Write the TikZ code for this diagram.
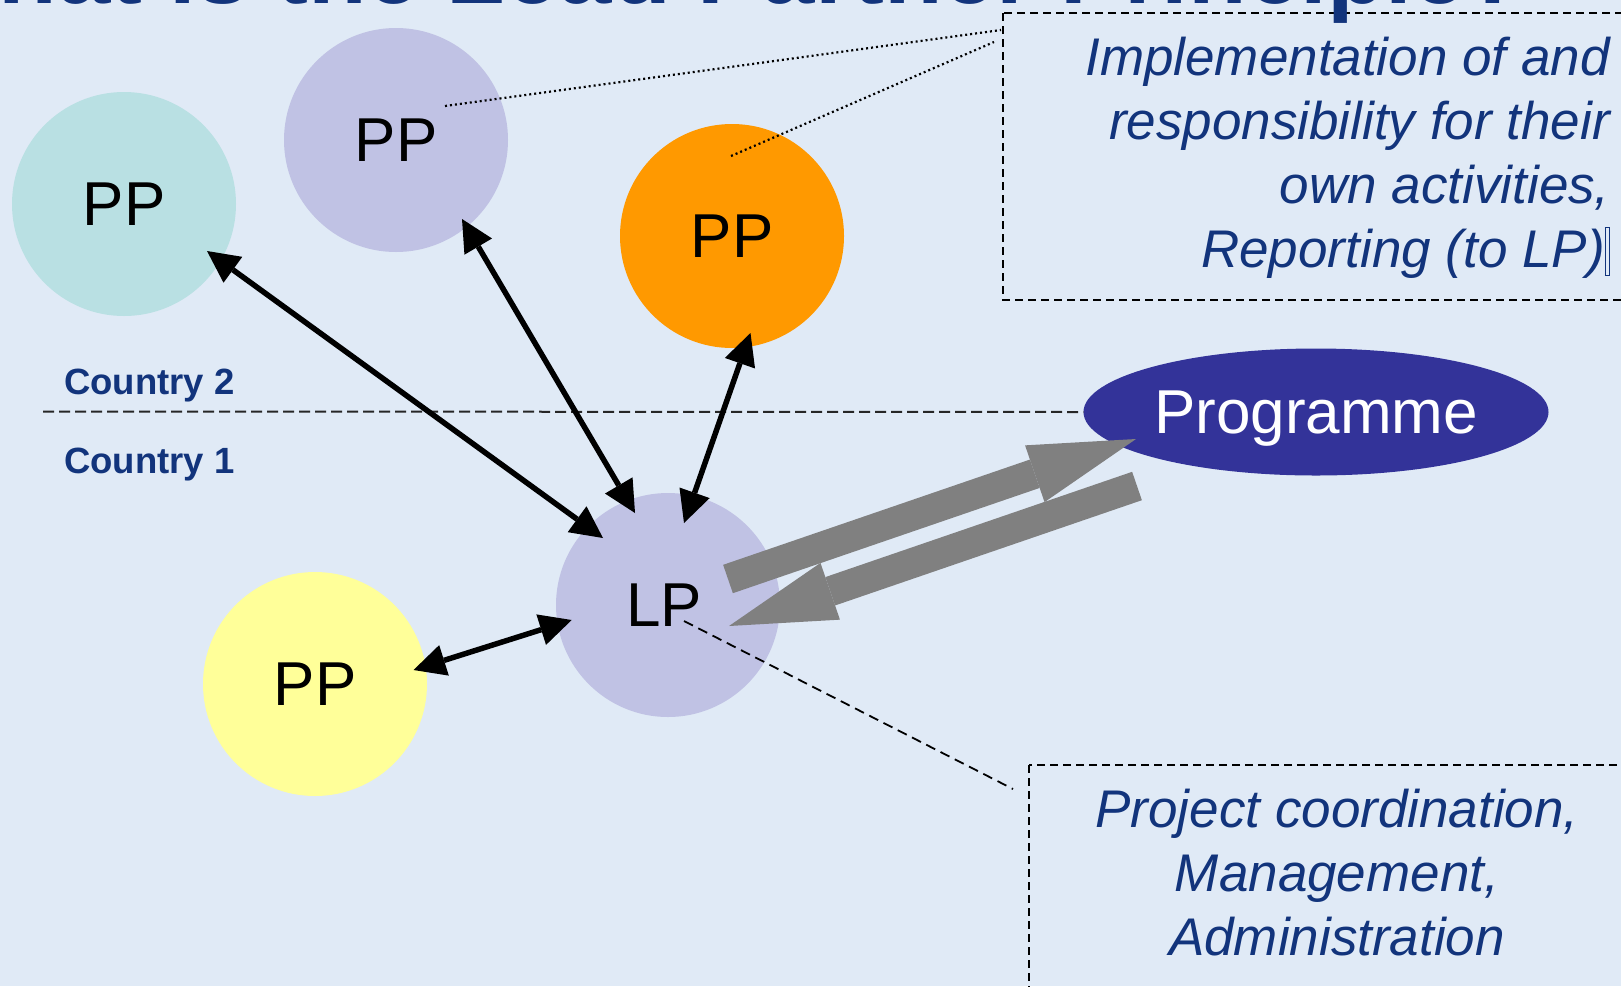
\documentclass[tikz,border=0pt]{standalone}
\usepackage{fontspec}
\setmainfont{Liberation Sans}
\usetikzlibrary{shapes.geometric,arrows.meta,calc}
\definecolor{bgblue}{RGB}{224,234,246}
\definecolor{navytxt}{RGB}{18,52,124}
\definecolor{tealpp}{RGB}{185,224,227}
\definecolor{lavpp}{RGB}{192,194,228}
\definecolor{orangepp}{RGB}{255,153,0}
\definecolor{yellowpp}{RGB}{255,255,153}
\definecolor{progblue}{RGB}{51,51,153}
\definecolor{arrowgray}{RGB}{128,128,128}
\newcommand\tofubox{{\setlength\fboxsep{0pt}\setlength\fboxrule{1pt}\fbox{\rule[-7pt]{0pt}{47pt}\hspace{3pt}}}}
\begin{document}
\begin{tikzpicture}[x=1pt,y=-1pt,
  partner/.style={circle, minimum size=224pt, inner sep=0pt, font=\fontsize{62}{74}\selectfont, text=black},
  dbl/.style={{Triangle[length=32pt,width=32pt,line width=0pt]}-{Triangle[length=32pt,width=32pt,line width=0pt]}, line width=5.5pt, black},
  bigarrow/.style={-{Triangle[length=107pt,width=60pt,line width=0pt]}, line width=30pt, arrowgray},
  callout/.style={dash pattern=on 8pt off 5pt, line width=2pt, black},
  dotleader/.style={dash pattern=on 2pt off 3pt, line width=2.2pt, black},
  dashleader/.style={dash pattern=on 10pt off 6pt, line width=1.8pt, black},
  divider/.style={dash pattern=on 11pt off 5pt, line width=2pt, black!85},
  country/.style={anchor=west, inner sep=0pt, font=\bfseries\fontsize{36.5}{44}\selectfont, text=navytxt},
  calltext/.style={inner sep=0pt, font=\itshape\fontsize{53}{64}\selectfont, text=navytxt}]
\useasboundingbox (0,0) rectangle (1621,986);
\fill[bgblue] (0,0) rectangle (1621,986);

% callout boxes
\draw[callout] (1003,13) rectangle (1650,300);
\draw[callout] (1029,765) rectangle (1650,1010);

% title (cut off at the top)
\node[anchor=base west, inner sep=0pt, font=\bfseries\fontsize{96}{110}\selectfont, text=navytxt] (title) at (-92,3) {What is the Lead Partner Principle?};

% partner circles
\node[partner, fill=tealpp] (teal) at (124,204) {PP};
\node[partner, fill=lavpp] (lav) at (396,140) {PP};
\node[partner, fill=orangepp] (orange) at (732,236) {PP};
\node[partner, fill=lavpp, text depth=0pt] (LP) at (668,605) {\hspace*{-8pt}LP};
\node[partner, fill=yellowpp] (yellow) at (315,684) {PP};
\node[ellipse, fill=progblue, minimum width=465pt, minimum height=127pt, inner sep=0pt, text=white, text depth=0pt, font=\fontsize{62}{74}\selectfont] (prog) at (1316,412) {Programme};

% country divider
\coordinate (divstart) at (43,411.5);
\draw[divider] (divstart) -- (prog.west);
\node[country] (c2) at (64,385.5) {Country 2};
\node[country] (c1) at (64,465) {Country 1};

% callout texts
\node[calltext, anchor=north east, align=right] (toptext) at (1610,37) {Implementation of and\\responsibility for their\\own activities,\\Reporting (to LP)\tofubox};
\node[calltext, anchor=north, align=center] (bottext) at (1337,789) {Project coordination,\\Management,\\Administration};

% leaders
\coordinate (tb1) at (1001,30);
\coordinate (tb2) at (994,42);
\coordinate (bb1) at (1013,789);
\draw[dotleader] ($(lav)+(49,-34)$) -- (tb1);
\draw[dotleader] ($(orange)+(-1,-80)$) -- (tb2);
\draw[dashleader] ($(LP)+(16,16)$) -- (bb1);

% black double arrows
\draw[dbl] ($(teal)+(83,47)$) -- ($(LP)+(-65,-67)$);
\draw[dbl] ($(lav)+(66,79)$) -- ($(LP)+(-33,-92)$);
\draw[dbl] ($(orange)+(18.5,97)$) -- ($(LP)+(16,-82)$);
\draw[dbl] ($(yellow)+(98.5,-14)$) -- ($(LP)+(-96.3,15)$);

% gray block arrows
\draw[bigarrow] ($(LP)+(60,-26)$) -- ($(prog)+(-180,27)$);
\draw[bigarrow] ($(prog)+(-179,74)$) -- ($(LP)+(61,21)$);
\end{tikzpicture}
\end{document}
